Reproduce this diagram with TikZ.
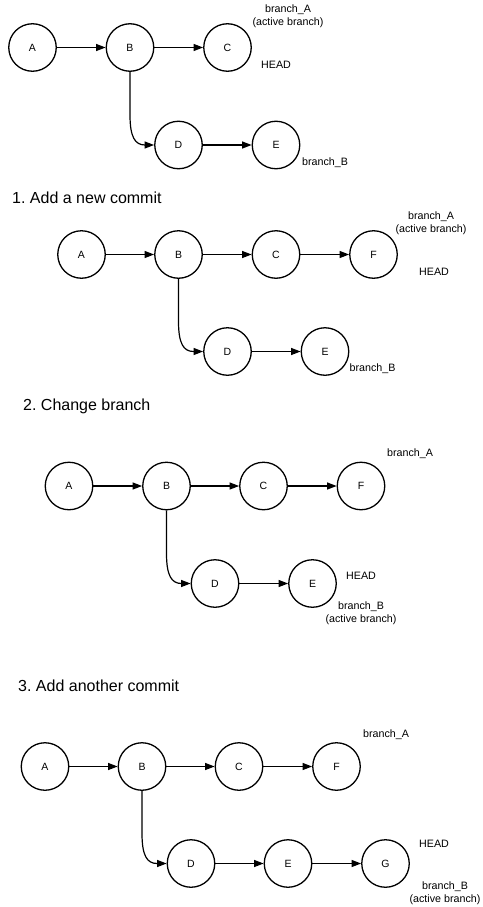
\documentclass[tikz,border=0pt]{standalone}
\usepackage{fontspec}
\setmainfont{Liberation Sans}
\usetikzlibrary{arrows.meta,calc}
\frenchspacing
\newcommand\forkpath[2]{%
  \draw[link] (#1.south) -- ($(#1.south|-#2.west)+(0,-30)$)
    .. controls ($(#1.south|-#2.west)+(0,-8)$) and ($(#1.south|-#2.west)+(5,0)$)
    .. ($(#1.south|-#2.west)+(15,0)$) -- (#2.west);}
\begin{document}
\begin{tikzpicture}[x=1pt,y=-1pt,
  commit/.style={circle,draw,line width=1.3pt,minimum size=47.5pt,inner sep=0pt,font=\fontsize{10.5}{12}\selectfont},
  lbl/.style={font=\fontsize{10.7}{13}\selectfont,align=center,inner sep=0pt},
  title/.style={font=\fontsize{16}{19}\selectfont,anchor=west,inner sep=0pt},
  link/.style={line width=1.2pt,-{Triangle[length=9.5pt,width=7pt]}}]
\useasboundingbox[fill=white] (0,0) rectangle (482,907);

% ---- initial state
\node[commit] (a0) at (32.5,47.5) {A};
\node[commit] (b0) at (130,47.5) {B};
\node[commit] (c0) at (227.5,47.5) {C};
\node[commit] (d0) at (178.5,145) {D};
\node[commit] (e0) at (276,145) {E};
\draw[link] (a0) -- (b0);
\draw[link] (b0) -- (c0);
\draw[link] (d0) -- (e0);
\forkpath{b0}{d0}
\node[lbl] (ba0) at (288,16.5) {branch\_A\\(active branch)};
\node[lbl] (h0) at (276,65) {HEAD};
\node[lbl] (bb0) at (325,163) {branch\_B};

% ---- 1
\node[title] (t1) at (12,198) {1. Add a new commit};
\node[commit] (a1) at (81.5,254.5) {A};
\node[commit] (b1) at (178.5,254.5) {B};
\node[commit] (c1) at (276,254.5) {C};
\node[commit] (f1) at (373.5,254.5) {F};
\node[commit] (d1) at (227.5,351.5) {D};
\node[commit] (e1) at (325,351.5) {E};
\draw[link] (a1) -- (b1);
\draw[link] (b1) -- (c1);
\draw[link] (c1) -- (f1);
\draw[link] (d1) -- (e1);
\forkpath{b1}{d1}
\node[lbl] (ba1) at (431,223) {branch\_A\\(active branch)};
\node[lbl] (h1) at (434,272) {HEAD};
\node[lbl] (bb1) at (372.5,369) {branch\_B};

% ---- 2
\node[title] (t2) at (23,406) {2. Change branch};
\node[commit] (a2) at (69,486) {A};
\node[commit] (b2) at (166.5,486) {B};
\node[commit] (c2) at (263.5,486) {C};
\node[commit] (f2) at (361,486) {F};
\node[commit] (d2) at (215,583.5) {D};
\node[commit] (e2) at (312.5,583.5) {E};
\draw[link] (a2) -- (b2);
\draw[link] (b2) -- (c2);
\draw[link] (c2) -- (f2);
\draw[link] (d2) -- (e2);
\forkpath{b2}{d2}
\node[lbl] (ba2) at (410,454) {branch\_A};
\node[lbl] (h2) at (361,576) {HEAD};
\node[lbl] (bb2) at (361,613) {branch\_B\\(active branch)};

% ---- 3
\node[title] (t3) at (18,686) {3. Add another commit};
\node[commit] (a3) at (45,766.5) {A};
\node[commit] (b3) at (142,766.5) {B};
\node[commit] (c3) at (239,766.5) {C};
\node[commit] (f3) at (336.5,766.5) {F};
\node[commit] (d3) at (191,863.5) {D};
\node[commit] (e3) at (288,863.5) {E};
\node[commit] (g3) at (385.5,863.5) {G};
\draw[link] (a3) -- (b3);
\draw[link] (b3) -- (c3);
\draw[link] (c3) -- (f3);
\draw[link] (d3) -- (e3);
\draw[link] (e3) -- (g3);
\forkpath{b3}{d3}
\node[lbl] (ba3) at (386,735) {branch\_A};
\node[lbl] (h3) at (434,844) {HEAD};
\node[lbl] (bb3) at (445,893.5) {branch\_B\\(active branch)};
\end{tikzpicture}
\end{document}
